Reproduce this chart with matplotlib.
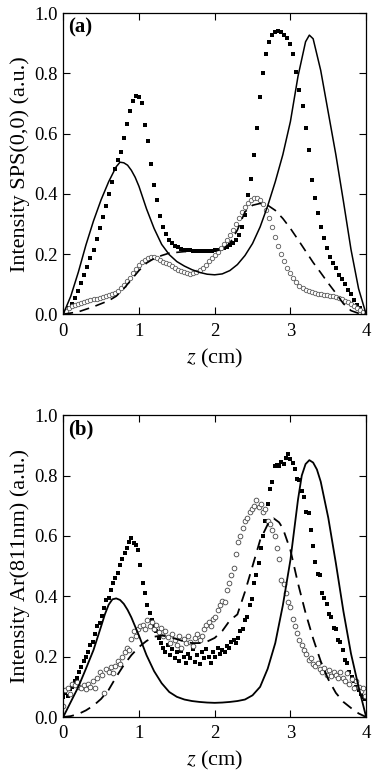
import numpy as np
import matplotlib
matplotlib.use("Agg")
import matplotlib.pyplot as plt

plt.rcParams['font.family'] = ['Liberation Serif', 'DejaVu Serif']
plt.rcParams['mathtext.fontset'] = 'stix'

# ---- panel (a): SPS(0,0) ----
xa_pts = np.round(np.arange(0, 4.001, 0.04), 2)
sq_a = [0.000, 0.008, 0.020, 0.035, 0.055, 0.078, 0.103, 0.130, 0.158, 0.187,
        0.215, 0.250, 0.285, 0.322, 0.360, 0.398, 0.440, 0.482, 0.512, 0.540,
        0.585, 0.632, 0.675, 0.708, 0.724, 0.722, 0.700, 0.630, 0.575, 0.500,
        0.430, 0.380, 0.325, 0.290, 0.265, 0.248, 0.236, 0.228, 0.222, 0.218,
        0.215, 0.213, 0.212, 0.211, 0.210, 0.210, 0.210, 0.210, 0.210, 0.211,
        0.212, 0.214, 0.217, 0.220, 0.224, 0.229, 0.236, 0.245, 0.262, 0.290,
        0.330, 0.395, 0.450, 0.530, 0.620, 0.720, 0.800, 0.865, 0.905, 0.928,
        0.938, 0.941, 0.936, 0.928, 0.918, 0.898, 0.866, 0.805, 0.745, 0.690,
        0.620, 0.545, 0.446, 0.385, 0.336, 0.290, 0.252, 0.220, 0.191, 0.170,
        0.152, 0.132, 0.117, 0.100, 0.082, 0.066, 0.048, 0.032, 0.020, 0.008,
        0.000]
ci_a = [0.000, 0.012, 0.020, 0.026, 0.030, 0.034, 0.037, 0.040, 0.043, 0.046,
        0.049, 0.052, 0.055, 0.058, 0.061, 0.064, 0.068, 0.072, 0.078, 0.087,
        0.098, 0.110, 0.122, 0.136, 0.150, 0.162, 0.172, 0.181, 0.187, 0.190,
        0.190, 0.186, 0.180, 0.175, 0.170, 0.166, 0.160, 0.154, 0.148, 0.143,
        0.139, 0.136, 0.135, 0.136, 0.140, 0.146, 0.155, 0.165, 0.176, 0.186,
        0.196, 0.207, 0.219, 0.232, 0.246, 0.262, 0.280, 0.300, 0.320, 0.340,
        0.356, 0.370, 0.380, 0.386, 0.385, 0.378, 0.366, 0.345, 0.318, 0.290,
        0.258, 0.228, 0.200, 0.176, 0.155, 0.137, 0.122, 0.108, 0.094, 0.086,
        0.080, 0.076, 0.073, 0.070, 0.068, 0.066, 0.065, 0.064, 0.062, 0.060,
        0.057, 0.054, 0.050, 0.045, 0.040, 0.035, 0.029, 0.022, 0.014, 0.006,
        0.000]

solid_a_x = [0, 0.1, 0.2, 0.3, 0.4, 0.5, 0.6, 0.7, 0.75, 0.8, 0.85, 0.9, 0.95, 1.0,
             1.1, 1.2, 1.3, 1.4, 1.5, 1.6, 1.7, 1.8, 1.9, 2.0, 2.1, 2.2, 2.3, 2.4,
             2.5, 2.6, 2.7, 2.8, 2.9, 3.0, 3.1, 3.2, 3.25, 3.3, 3.4, 3.5, 3.6, 3.7,
             3.8, 3.9, 4.0]
solid_a_y = [0, 0.06, 0.14, 0.23, 0.31, 0.38, 0.44, 0.49, 0.505, 0.503, 0.495, 0.478,
             0.455, 0.425, 0.35, 0.285, 0.232, 0.198, 0.175, 0.16, 0.148, 0.139, 0.133,
             0.131, 0.134, 0.145, 0.165, 0.195, 0.235, 0.29, 0.36, 0.44, 0.53, 0.64,
             0.79, 0.905, 0.927, 0.915, 0.81, 0.67, 0.53, 0.375, 0.215, 0.085, 0]

dash_a_x = [0, 0.2, 0.4, 0.6, 0.7, 0.8, 0.9, 1.0, 1.1, 1.2, 1.3, 1.4, 1.6, 1.8, 2.0,
            2.1, 2.2, 2.3, 2.4, 2.5, 2.6, 2.7, 2.8, 2.9, 3.0, 3.1, 3.2, 3.3, 3.4,
            3.5, 3.6, 3.7, 3.8, 3.9, 4.0]
dash_a_y = [0, 0.008, 0.025, 0.045, 0.06, 0.085, 0.115, 0.145, 0.17, 0.185, 0.195,
            0.203, 0.208, 0.208, 0.21, 0.215, 0.235, 0.28, 0.34, 0.362, 0.368, 0.362,
            0.345, 0.318, 0.285, 0.248, 0.21, 0.172, 0.138, 0.103, 0.07, 0.035,
            0.012, 0.003, 0]

# ---- panel (b): Ar(811nm) ----
xb_pts = np.round(np.arange(0, 4.0, 0.03), 2)
sq_b = [0.065, 0.078, 0.070, 0.092, 0.100, 0.118, 0.128, 0.150, 0.165, 0.185,
        0.200, 0.215, 0.238, 0.250, 0.275, 0.300, 0.310, 0.335, 0.360, 0.388,
        0.395, 0.422, 0.445, 0.460, 0.478, 0.505, 0.525, 0.545, 0.560, 0.580,
        0.592, 0.575, 0.570, 0.552, 0.505, 0.445, 0.412, 0.372, 0.345, 0.322,
        0.300, 0.285, 0.262, 0.245, 0.230, 0.215, 0.240, 0.205, 0.225, 0.195,
        0.215, 0.185, 0.220, 0.200, 0.180, 0.210, 0.195, 0.225, 0.182, 0.205,
        0.175, 0.215, 0.195, 0.225, 0.200, 0.180, 0.215, 0.200, 0.228, 0.210,
        0.222, 0.215, 0.235, 0.228, 0.250, 0.255, 0.245, 0.262, 0.285, 0.290,
        0.320, 0.330, 0.370, 0.390, 0.445, 0.470, 0.510, 0.560, 0.600, 0.650,
        0.705, 0.755, 0.780, 0.830, 0.835, 0.832, 0.845, 0.838, 0.858, 0.870,
        0.855, 0.840, 0.822, 0.790, 0.785, 0.750, 0.730, 0.680, 0.675, 0.620,
        0.565, 0.515, 0.475, 0.470, 0.410, 0.395, 0.375, 0.340, 0.330, 0.295,
        0.290, 0.255, 0.250, 0.222, 0.190, 0.178, 0.150, 0.133, 0.120, 0.100,
        0.090, 0.075, 0.068, 0.060]
ci_b = [0.035, 0.090, 0.095, 0.075, 0.110, 0.105, 0.115, 0.100, 0.095, 0.105,
        0.092, 0.110, 0.100, 0.118, 0.095, 0.130, 0.150, 0.140, 0.080, 0.160,
        0.150, 0.165, 0.145, 0.170, 0.185, 0.175, 0.200, 0.215, 0.228, 0.222,
        0.260, 0.285, 0.270, 0.290, 0.300, 0.305, 0.290, 0.320, 0.300, 0.315,
        0.290, 0.305, 0.282, 0.295, 0.270, 0.285, 0.265, 0.245, 0.275, 0.255,
        0.240, 0.268, 0.230, 0.258, 0.245, 0.270, 0.250, 0.235, 0.262, 0.275,
        0.255, 0.268, 0.290, 0.305, 0.315, 0.300, 0.325, 0.330, 0.355, 0.370,
        0.385, 0.380, 0.420, 0.445, 0.470, 0.495, 0.540, 0.580, 0.600, 0.625,
        0.650, 0.660, 0.680, 0.690, 0.700, 0.718, 0.695, 0.705, 0.680, 0.690,
        0.650, 0.640, 0.620, 0.600, 0.560, 0.525, 0.455, 0.440, 0.410, 0.380,
        0.365, 0.325, 0.300, 0.280, 0.255, 0.240, 0.222, 0.210, 0.190, 0.195,
        0.175, 0.168, 0.180, 0.160, 0.150, 0.162, 0.140, 0.155, 0.135, 0.148,
        0.140, 0.128, 0.150, 0.130, 0.120, 0.145, 0.110, 0.125, 0.095, 0.118,
        0.100, 0.085, 0.095, 0.070]

solid_b_x = [0, 0.1, 0.2, 0.3, 0.4, 0.5, 0.55, 0.6, 0.65, 0.7, 0.75, 0.8, 0.85, 0.9,
             1.0, 1.1, 1.2, 1.3, 1.4, 1.5, 1.6, 1.7, 1.8, 1.9, 2.0, 2.1, 2.2, 2.3,
             2.4, 2.5, 2.6, 2.7, 2.8, 2.9, 3.0, 3.1, 3.15, 3.2, 3.25, 3.3, 3.35,
             3.4, 3.5, 3.6, 3.7, 3.8, 3.9, 4.0]
solid_b_y = [0, 0.05, 0.10, 0.16, 0.222, 0.30, 0.34, 0.372, 0.39, 0.393, 0.388, 0.375,
             0.355, 0.33, 0.27, 0.205, 0.152, 0.112, 0.083, 0.067, 0.058, 0.053, 0.05,
             0.048, 0.047, 0.048, 0.05, 0.053, 0.058, 0.072, 0.10, 0.16, 0.245, 0.37,
             0.52, 0.72, 0.80, 0.838, 0.851, 0.843, 0.82, 0.78, 0.66, 0.51, 0.35,
             0.21, 0.10, 0]

dash_b_x = [0, 0.1, 0.2, 0.3, 0.4, 0.5, 0.6, 0.7, 0.8, 0.9, 1.0, 1.1, 1.2, 1.3, 1.4,
            1.5, 1.6, 1.7, 1.8, 1.9, 2.0, 2.1, 2.2, 2.3, 2.4, 2.5, 2.6, 2.7, 2.78,
            2.85, 2.9, 3.0, 3.1, 3.2, 3.3, 3.4, 3.5, 3.6, 3.7, 3.8, 3.9, 4.0]
dash_b_y = [0, 0.003, 0.01, 0.022, 0.038, 0.06, 0.09, 0.133, 0.172, 0.205, 0.232,
            0.252, 0.266, 0.27, 0.266, 0.258, 0.25, 0.245, 0.245, 0.25, 0.262, 0.285,
            0.32, 0.34, 0.415, 0.50, 0.586, 0.638, 0.658, 0.645, 0.625, 0.553, 0.443,
            0.345, 0.26, 0.185, 0.125, 0.08, 0.05, 0.03, 0.012, 0]

ylabels = ["Intensity SPS(0,0) (a.u.)", "Intensity Ar(811nm) (a.u.)"]
tags = ["(a)", "(b)"]

fig = plt.figure(figsize=(3.74, 7.74), dpi=100)
ax_a = fig.add_axes([0.169, 0.594, 0.810, 0.389])
ax_b = fig.add_axes([0.169, 0.0736, 0.810, 0.390])

# (a)
ax_a.plot(xa_pts, sq_a, ls='none', marker='s', ms=2.6, mfc='black', mec='black', mew=0)
ax_a.plot(xa_pts, ci_a, ls='none', marker='o', ms=3.2, mfc='white', mec='#5a5a5a', mew=0.6)
ax_a.plot(dash_a_x, dash_a_y, color='black', lw=1.2, ls=(0, (6, 4)))
ax_a.plot(solid_a_x, solid_a_y, color='black', lw=1.1)

# (b)
ax_b.plot(xb_pts, sq_b, ls='none', marker='s', ms=3.0, mfc='black', mec='black', mew=0)
ax_b.plot(xb_pts, ci_b, ls='none', marker='o', ms=3.4, mfc='white', mec='#444444', mew=0.6)
ax_b.plot(dash_b_x, dash_b_y, color='black', lw=1.3, ls=(0, (6, 4)))
ax_b.plot(solid_b_x, solid_b_y, color='black', lw=1.3)

for ax, lab, tag in zip([ax_a, ax_b], ylabels, tags):
    ax.set_xlim(0, 4)
    ax.set_ylim(0, 1.0)
    ax.set_xticks([0, 1, 2, 3, 4])
    ax.set_yticks([0.0, 0.2, 0.4, 0.6, 0.8, 1.0])
    ax.set_yticklabels(["0.0", "0.2", "0.4", "0.6", "0.8", "1.0"])
    ax.tick_params(direction='in', top=True, right=True, length=5, width=0.8,
                   labelsize=13.5)
    ax.tick_params(axis='x', pad=6)
    ax.tick_params(axis='y', pad=4)
    for s in ax.spines.values():
        s.set_linewidth(0.9)
    ax.set_xlabel(r"$z$ (cm)", fontsize=16, labelpad=5)
    ax.set_ylabel(lab, fontsize=16, labelpad=3)
    ax.text(0.015, 0.985, tag, transform=ax.transAxes, fontsize=15,
            fontweight='bold', va='top', ha='left')

fig.savefig("out.png", dpi=100)
